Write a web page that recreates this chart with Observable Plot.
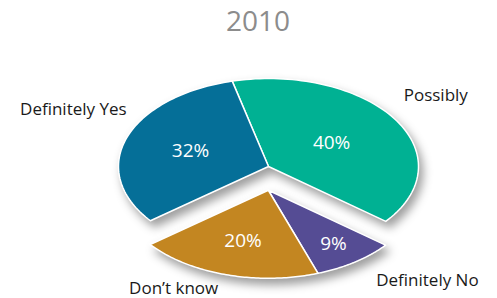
<!DOCTYPE html>
<html><head><meta charset="utf-8">
<script src="https://cdn.jsdelivr.net/npm/d3@7"></script>
<script src="https://cdn.jsdelivr.net/npm/@observablehq/plot@0.6"></script>
<style>
body{margin:0;background:#fff;}
#chart g[aria-label="line"]{filter: drop-shadow(4px 6px 5px rgba(0,0,0,0.38));}
</style></head><body><div id="chart"></div>
<script>
const title = "2010";
const categories = ["Possibly", "Definitely No", "Don’t know", "Definitely Yes"];
const values = [40, 9, 20, 32];
const explodedCategories = ["Definitely No", "Don’t know"];

// layout / style
const palette = ["#00b193", "#554c94", "#c38621", "#056f98"];
const startDeg = -14;
const explode = 0.27;
const pctRadius = [0.5, 0.75, 0.6, 0.55];
const labelNudge = [[9, -23], [21, 19], [-8, 14], [0, -28]]; // px
const W = 497, H = 298, cx = 268, cy = 166, rx = 150, ry = 88;

const a0 = startDeg * Math.PI / 180;
const arcs = d3.pie().sort(null).startAngle(a0).endAngle(a0 + 2 * Math.PI)(values);
const exIdx = categories.map((c, i) => explodedCategories.includes(c) ? i : -1).filter(i => i >= 0);
const exMid = (d3.min(exIdx, i => arcs[i].startAngle) + d3.max(exIdx, i => arcs[i].endAngle)) / 2;

const slices = arcs.map((a, i) => {
  const ex = exIdx.includes(i);
  const ox = ex ? explode * Math.sin(exMid) : 0;
  const oy = ex ? explode * Math.cos(exMid) : 0;
  return {a, i, ox, oy, cat: categories[i], mid: (a.startAngle + a.endAngle) / 2};
});

const pts = [];
for (const s of slices) {
  pts.push({cat: s.cat, x: s.ox, y: s.oy});
  const n = 80;
  for (let k = 0; k <= n; k++) {
    const t = s.a.startAngle + (s.a.endAngle - s.a.startAngle) * k / n;
    pts.push({cat: s.cat, x: s.ox + Math.sin(t), y: s.oy + Math.cos(t)});
  }
  pts.push({cat: s.cat, x: s.ox, y: s.oy});
}
const topPts = pts.filter(p => !explodedCategories.includes(p.cat));
const botPts = pts.filter(p => explodedCategories.includes(p.cat));

const pct = slices.map(s => ({
  x: s.ox + pctRadius[s.i] * Math.sin(s.mid),
  y: s.oy + pctRadius[s.i] * Math.cos(s.mid),
  text: values[s.i] + "%"
}));
const labels = slices.map(s => ({
  x: s.ox + Math.sin(s.mid) + labelNudge[s.i][0] / rx,
  y: s.oy + Math.cos(s.mid) - labelNudge[s.i][1] / ry,
  text: s.cat,
  right: Math.sin(s.mid) > 0
}));

const chart = Plot.plot({
  width: W, height: H,
  margin: 0,
  style: {fontFamily: "'Open Sans', sans-serif", background: "white"},
  x: {domain: [-1, 1], range: [cx - rx, cx + rx], axis: null},
  y: {domain: [-1, 1], range: [cy + ry, cy - ry], axis: null},
  color: {domain: categories, range: palette},
  marks: [
    Plot.line(topPts, {x: "x", y: "y", z: "cat", fill: "cat", stroke: "white", strokeWidth: 1.5, strokeLinejoin: "round", curve: "linear"}),
    Plot.line(botPts, {x: "x", y: "y", z: "cat", fill: "cat", stroke: "white", strokeWidth: 1.5, strokeLinejoin: "round", curve: "linear"}),
    Plot.text(pct, {x: "x", y: "y", text: "text", fill: "white", fontSize: 19}),
    Plot.text(labels.filter(d => d.right), {x: "x", y: "y", text: "text", textAnchor: "start", fill: "#1a1a1a", fontSize: 17}),
    Plot.text(labels.filter(d => !d.right), {x: "x", y: "y", text: "text", textAnchor: "end", fill: "#1a1a1a", fontSize: 17}),
    Plot.text([title], {frameAnchor: "top", text: d => d, dx: 9, dy: 11, fontSize: 28, fill: "#8c8c8c"})
  ]
});
document.getElementById("chart").append(chart);
</script></body></html>
